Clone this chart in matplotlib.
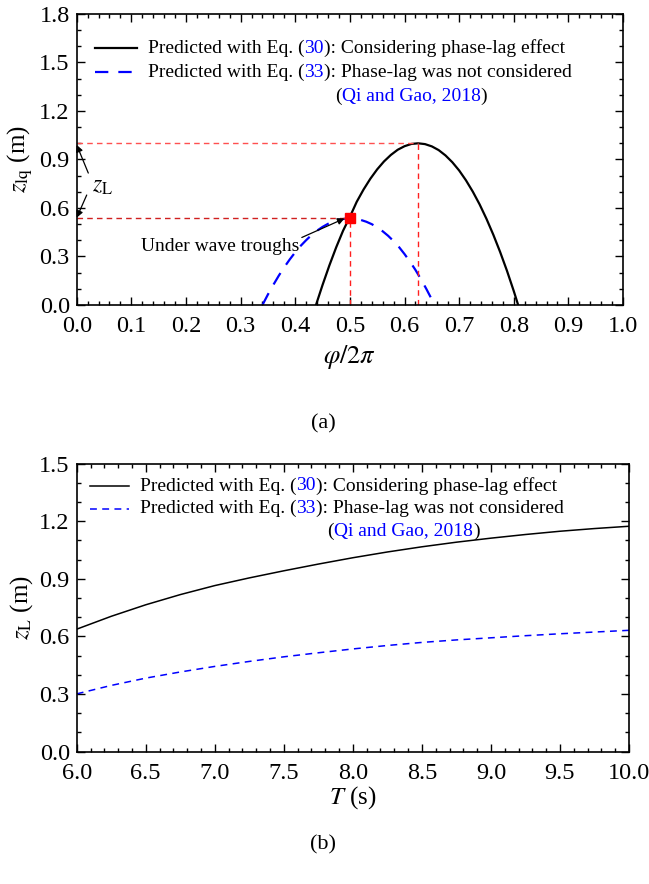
import matplotlib
matplotlib.use('Agg')
import matplotlib.pyplot as plt
from matplotlib.lines import Line2D
from matplotlib.offsetbox import (TextArea, DrawingArea, HPacker, VPacker,
                                  AnchoredOffsetbox)
from matplotlib.ticker import MultipleLocator

plt.rcParams['font.family'] = ['Liberation Serif', 'DejaVu Serif']
plt.rcParams['mathtext.fontset'] = 'stix'

# (a) z_lq against phase phi/2pi
phi_eq30 = [0.438, 0.44, 0.45, 0.4625, 0.475, 0.4875, 0.5, 0.5125, 0.525, 0.5375,
            0.55, 0.5625, 0.575, 0.5875, 0.6, 0.6125, 0.625, 0.6375, 0.65, 0.6625,
            0.675, 0.6875, 0.7, 0.7125, 0.725, 0.7375, 0.75, 0.7625, 0.775,
            0.7875, 0.8, 0.808]
zlq_eq30 = [0.0, 0.021, 0.124, 0.245, 0.357, 0.459, 0.545, 0.638, 0.714, 0.781,
            0.839, 0.888, 0.928, 0.96, 0.982, 0.996, 1.0, 0.995, 0.981, 0.958,
            0.925, 0.883, 0.832, 0.771, 0.701, 0.622, 0.533, 0.435, 0.328,
            0.212, 0.086, 0.0]
phi_eq33 = [0.34, 0.35, 0.36, 0.37, 0.38, 0.39, 0.40, 0.41, 0.42, 0.43, 0.44,
            0.45, 0.46, 0.47, 0.48, 0.49, 0.50, 0.51, 0.52, 0.53, 0.54, 0.55,
            0.56, 0.57, 0.58, 0.59, 0.60, 0.61, 0.62, 0.63, 0.64, 0.65, 0.656]
zlq_eq33 = [0.0, 0.065, 0.125, 0.182, 0.234, 0.282, 0.326, 0.366, 0.401, 0.433,
            0.46, 0.483, 0.502, 0.517, 0.527, 0.533, 0.535, 0.533, 0.526, 0.515,
            0.5, 0.48, 0.456, 0.428, 0.395, 0.358, 0.315, 0.268, 0.217, 0.16,
            0.099, 0.034, 0.0]
phi_peak = 0.625
zL_eq30 = 1.0
phi_trough = 0.5
zL_eq33 = 0.54

# (b) z_L against wave period T
T = [6.0, 6.25, 6.5, 6.75, 7.0, 7.25, 7.5, 7.75, 8.0, 8.25, 8.5, 8.75, 9.0,
     9.25, 9.5, 9.75, 10.0]
zL_T_eq30 = [0.638, 0.705, 0.765, 0.818, 0.865, 0.905, 0.942, 0.977, 1.010,
             1.040, 1.067, 1.091, 1.112, 1.131, 1.148, 1.162, 1.174]
zL_T_eq33 = [0.301, 0.345, 0.383, 0.415, 0.444, 0.470, 0.494, 0.515, 0.535,
             0.553, 0.569, 0.582, 0.593, 0.604, 0.614, 0.623, 0.632]

FS_TICK = 17.5
FS_LEG = 14
BLUE = '#0000ff'


def style_axes(ax, xmaj, xmin, ymaj, ymin):
    ax.xaxis.set_major_locator(MultipleLocator(xmaj))
    ax.xaxis.set_minor_locator(MultipleLocator(xmin))
    ax.yaxis.set_major_locator(MultipleLocator(ymaj))
    ax.yaxis.set_minor_locator(MultipleLocator(ymin))
    ax.tick_params(which='both', direction='in', top=True, right=True,
                   labelsize=FS_TICK, width=1.0)
    ax.tick_params(which='major', length=6)
    ax.tick_params(which='minor', length=3)
    ax.tick_params(axis='x', pad=8)
    ax.tick_params(axis='y', pad=5)
    for s in ax.spines.values():
        s.set_linewidth(1.2)


def make_legend(ax, styles, anchor, line_w, sep):
    rows = []
    texts = [
        [('Predicted with Eq. (', 'black'), ('30', BLUE),
         ('): Considering phase-lag effect', 'black')],
        [('Predicted with Eq. (', 'black'), ('33', BLUE),
         ('): Phase-lag was not considered', 'black')],
    ]
    for st, parts in zip(styles, texts):
        da = DrawingArea(line_w, 10, 0, 0)
        da.add_artist(Line2D([0, line_w], [5, 5], **st))
        txt = HPacker(children=[TextArea(s, textprops=dict(color=c, fontsize=FS_LEG))
                                for s, c in parts], align='baseline', pad=0, sep=0)
        rows.append(HPacker(children=[da, txt], align='center', pad=0, sep=8))
    spacer = DrawingArea(line_w + 8 + 135, 5, 0, 0)
    cite = HPacker(children=[TextArea('(', textprops=dict(color='black', fontsize=FS_LEG)),
                             TextArea('Qi and Gao, 2018', textprops=dict(color=BLUE, fontsize=FS_LEG)),
                             TextArea(')', textprops=dict(color='black', fontsize=FS_LEG))],
                   align='baseline', pad=0, sep=0)
    rows.append(HPacker(children=[spacer, cite], align='center', pad=0, sep=0))
    box = VPacker(children=rows, align='left', pad=0, sep=sep)
    anc = AnchoredOffsetbox(loc='upper left', child=box, pad=0, borderpad=0,
                            bbox_to_anchor=anchor, bbox_transform=ax.transAxes,
                            frameon=False)
    ax.add_artist(anc)


fig = plt.figure(figsize=(6.49, 8.84), dpi=100)

# ---- panel (a)
ax1 = fig.add_axes([0.1182, 0.6550, 0.8418, 0.3292])
ax1.plot(phi_eq30, zlq_eq30, color='black', lw=1.6)
ax1.plot(phi_eq33, zlq_eq33, color=BLUE, lw=1.6, dashes=(6, 4.5))
ax1.plot([0, phi_peak], [zL_eq30, zL_eq30], color='#ff5050', lw=1, dashes=(4, 3))
ax1.plot([phi_peak, phi_peak], [0, zL_eq30], color='#ff2020', lw=1, dashes=(4, 3))
ax1.plot([0, phi_trough], [zL_eq33, zL_eq33], color='#d02020', lw=1, dashes=(4, 3))
ax1.plot([phi_trough, phi_trough], [0, zL_eq33], color='#ff2020', lw=1, dashes=(4, 3))
ax1.plot([phi_trough], [zL_eq33], marker='s', ms=7, color='red', ls='none', zorder=5)

ax1.text(0.028, 0.73, r'$z_{\mathrm{L}}$', fontsize=17, ha='left', va='center')
ax1.annotate('', xy=(0.0, 0.99), xytext=(0.0212, 0.816),
             arrowprops=dict(arrowstyle='-|>', color='black', lw=0.9,
                             mutation_scale=10, shrinkA=0, shrinkB=0))
ax1.annotate('', xy=(0.0, 0.54), xytext=(0.0183, 0.68),
             arrowprops=dict(arrowstyle='-|>', color='black', lw=0.9,
                             mutation_scale=10, shrinkA=0, shrinkB=0))
ax1.annotate('Under wave troughs', xy=(0.49, 0.535), xytext=(0.262, 0.36),
             fontsize=FS_LEG, ha='center', va='center',
             arrowprops=dict(arrowstyle='-|>', color='black', lw=0.9,
                             mutation_scale=10, shrinkA=0, shrinkB=0,
                             relpos=(0.97, 0.85)))

ax1.set_xlim(0, 1.0)
ax1.set_ylim(0, 1.8)
style_axes(ax1, 0.1, 0.02, 0.3, 0.1)
ax1.set_xlabel(r'$\varphi/2\pi$', fontsize=19, labelpad=4)
ax1.set_ylabel(r'$z_{\mathrm{lq}}$ (m)', fontsize=18, labelpad=3)
make_legend(ax1, [dict(color='black', lw=1.6),
                  dict(color=BLUE, lw=1.6, dashes=(6, 4.5))],
            (0.0335, 0.915), 30, 5)
fig.text(0.498, 0.520, '(a)', fontsize=16, ha='center', va='center')

# ---- panel (b)
ax2 = fig.add_axes([0.1182, 0.1497, 0.851, 0.3258])
ax2.plot(T, zL_T_eq30, color='black', lw=1.1)
ax2.plot(T, zL_T_eq33, color=BLUE, lw=1.1, dashes=(4.5, 3.5))
ax2.set_xlim(6.0, 10.0)
ax2.set_ylim(0, 1.5)
style_axes(ax2, 0.5, 0.1, 0.3, 0.1)
ax2.set_xlabel(r'$T$ (s)', fontsize=18, labelpad=0)
ax2.set_ylabel(r'$z_{\mathrm{L}}$ (m)', fontsize=18, labelpad=3)
make_legend(ax2, [dict(color='black', lw=1.1),
                  dict(color=BLUE, lw=1.1, dashes=(4.5, 3.5))],
            (0.024, 0.955), 28, 4)
fig.text(0.498, 0.044, '(b)', fontsize=16, ha='center', va='center')

fig.savefig('out.png', dpi=100)
